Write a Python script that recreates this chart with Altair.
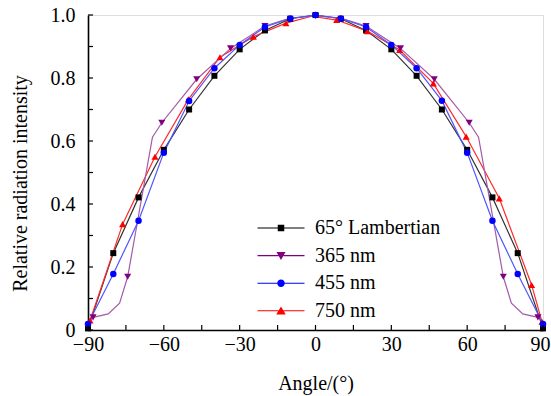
import altair as alt
import pandas as pd

series_names = ["65° Lambertian", "365 nm", "455 nm", "750 nm"]
marker_colors = ["#000000", "#800080", "#0000ff", "#ff0000"]
line_colors = ["#333333", "#a45aa8", "#4d55ff", "#ff2a2a"]

# 65° Lambertian
lam_angle = [-90, -80, -70, -60, -50, -40, -30, -20, -10, 0, 10, 20, 30, 40, 50, 60, 70, 80, 90]
lam_val = [0.005, 0.244, 0.421, 0.572, 0.700, 0.807, 0.891, 0.951, 0.988, 1.0,
           0.988, 0.951, 0.891, 0.807, 0.700, 0.572, 0.421, 0.244, 0.005]

# 365 nm (line vertices and markers)
uv_line_angle = [-88, -82, -77.5, -74.3, -64.5, -60.8, -47, -33.6, -20, -10, 0,
                 10, 20, 33.6, 47, 60.8, 64.5, 74.3, 77.5, 82, 88]
uv_line_val = [0.040, 0.051, 0.085, 0.169, 0.612, 0.658, 0.796, 0.894, 0.965, 0.99, 0.997,
               0.99, 0.965, 0.894, 0.796, 0.658, 0.612, 0.169, 0.085, 0.051, 0.040]
uv_mark_angle = [-88, -74.3, -60.8, -47, -33.6, -20, 0, 20, 33.6, 47, 60.8, 74.3, 88]
uv_mark_val = [0.040, 0.169, 0.658, 0.796, 0.894, 0.965, 0.997, 0.965, 0.894, 0.796, 0.658, 0.169, 0.040]

# 455 nm
blue_angle = [-90, -80, -70, -60, -50, -40, -30, -20, -10, 0, 10, 20, 30, 40, 50, 60, 70, 80, 90]
blue_val = [0.019, 0.178, 0.347, 0.563, 0.727, 0.831, 0.905, 0.962, 0.989, 1.0,
            0.989, 0.962, 0.905, 0.831, 0.728, 0.563, 0.347, 0.178, 0.019]

# 750 nm
red_line_angle = [-89.2, -76.3, -63.5, -50.3, -37.8, -24.6, -11.7, -1.5, 8.4, 20.5, 33.3,
                  46.6, 59.6, 72.7, 85.5, 89.6]
red_line_val = [0.030, 0.336, 0.550, 0.732, 0.866, 0.931, 0.974, 0.996, 0.984, 0.949, 0.889,
                0.783, 0.614, 0.418, 0.143, 0.026]
red_mark_angle = [-89.2, -76.3, -63.5, -50.3, -37.8, -24.6, -11.7, 8.4, 20.5, 33.3,
                  46.6, 59.6, 72.7, 85.5, 89.6]
red_mark_val = [0.030, 0.336, 0.550, 0.732, 0.866, 0.931, 0.974, 0.984, 0.949, 0.889,
                0.783, 0.614, 0.418, 0.143, 0.026]

x_tick_values = [-90, -75, -60, -45, -30, -15, 0, 15, 30, 45, 60, 75, 90]
y_tick_values = [0, 0.1, 0.2, 0.3, 0.4, 0.5, 0.6, 0.7, 0.8, 0.9, 1.0]
x_label_values = [-90, -60, -30, 0, 30, 60, 90]
y_label_values = [0, 0.2, 0.4, 0.6, 0.8, 1.0]

# legend glyphs: short line with marker in the middle (fill-only paths)
band = "M-4.7,-0.11L-0.5,-0.11L-0.5,0.11L-4.7,0.11ZM0.5,-0.11L4.7,-0.11L4.7,0.11L0.5,0.11Z"
legend_shapes = [
    band + "M-0.65,-0.65L0.65,-0.65L0.65,0.65L-0.65,0.65Z",
    band + "M-0.9,-0.7L0.9,-0.7L0,0.9Z",
    band + "M0.75,0A0.75,0.75,0,1,1,-0.75,0A0.75,0.75,0,1,1,0.75,0Z",
    band + "M0,-0.85L0.95,0.75L-0.95,0.75Z",
]

FONT = "Liberation Serif"


def frame(name, angles, vals):
    return pd.DataFrame({"series": name, "angle": angles, "value": vals})


line_frames = {
    series_names[0]: frame(series_names[0], lam_angle, lam_val),
    series_names[1]: frame(series_names[1], uv_line_angle, uv_line_val),
    series_names[2]: frame(series_names[2], blue_angle, blue_val),
    series_names[3]: frame(series_names[3], red_line_angle, red_line_val),
}
mark_frames = {
    series_names[0]: frame(series_names[0], lam_angle, lam_val),
    series_names[1]: frame(series_names[1], uv_mark_angle, uv_mark_val),
    series_names[2]: frame(series_names[2], blue_angle, blue_val),
    series_names[3]: frame(series_names[3], red_mark_angle, red_mark_val),
}
legend_df = pd.DataFrame({"series": series_names, "angle": [0] * 4, "value": [0] * 4})

x_scale = alt.Scale(domain=[-90, 90], nice=False, zero=False)
y_scale = alt.Scale(domain=[0, 1], nice=False)
color_scale = alt.Scale(domain=series_names, range=marker_colors)

x_axis = alt.Axis(values=x_label_values, ticks=False, grid=False, labelFont=FONT,
                  labelFontSize=20, labelColor="black", labelPadding=4, labelFlush=False,
                  labelOffset={"condition": {"test": "datum.value == 90", "value": -3}, "value": 0},
                  title="Angle/(°)", titleFont=FONT, titleFontSize=20, titleFontWeight="normal",
                  titleColor="black", titleY=53, titleBaseline="middle",
                  domainColor="black", domainWidth=1.6)
y_axis = alt.Axis(values=y_label_values, ticks=False, grid=False, labelFont=FONT,
                  labelFontSize=20, labelColor="black", labelPadding=13, labelFlush=False,
                  labelExpr="datum.value == 0 ? '0' : format(datum.value, '.1f')",
                  title="Relative radiation intensity", titleFont=FONT, titleFontSize=20,
                  titleFontWeight="normal", titleColor="black", titleX=-68, titleY=168,
                  titleBaseline="middle", titleAlign="center", titleAngle=-90,
                  domainColor="black", domainWidth=1.6)

X = alt.X("angle:Q", scale=x_scale, axis=x_axis)
Y = alt.Y("value:Q", scale=y_scale, axis=y_axis)

legend_spec = alt.Legend(title=None, orient="none", legendX=183, legendY=203,
                         symbolSize=100, symbolStrokeWidth=0, symbolOpacity=1, labelFont=FONT,
                         labelFontSize=20, labelColor="black", labelOffset=24,
                         rowPadding=7.6, padding=0, labelLimit=300)

# legend carrier layer (draws no marks itself)
legend_layer = alt.Chart(legend_df).transform_filter("false").mark_point(
    filled=True, opacity=1
).encode(
    x=X, y=Y,
    color=alt.Color("series:N", scale=color_scale, legend=legend_spec),
    shape=alt.Shape("series:N", scale=alt.Scale(domain=series_names, range=legend_shapes),
                    legend=legend_spec),
)

shape_of = {series_names[0]: ("square", 36), series_names[1]: ("triangle-down", 50),
            series_names[2]: ("circle", 42), series_names[3]: ("triangle-up", 50)}

layers = [legend_layer]
for i in [0, 3, 1, 2]:
    name = series_names[i]
    layers.append(
        alt.Chart(line_frames[name]).mark_line(strokeWidth=1.2, color=line_colors[i]).encode(
            x=X, y=Y)
    )
for i in [0, 3, 1, 2]:
    name = series_names[i]
    shp, sz = shape_of[name]
    layers.append(
        alt.Chart(mark_frames[name]).mark_point(
            filled=True, opacity=1, size=sz, shape=shp, color=marker_colors[i]
        ).encode(x=X, y=Y)
    )

xt_df = pd.DataFrame({"angle": x_tick_values})
yt_df = pd.DataFrame({"value": y_tick_values})
layers.append(alt.Chart(xt_df).mark_rule(color="black", strokeWidth=1.2).encode(
    x=X, y=alt.value(315), y2=alt.value(310)))
layers.append(alt.Chart(yt_df).mark_rule(color="black", strokeWidth=1.2).encode(
    y=Y, x=alt.value(0), x2=alt.value(5)))

chart = alt.layer(*layers).properties(
    width=455, height=315,
    autosize=alt.AutoSizeParams(type="none"),
    padding={"left": 88, "top": 15, "right": 8, "bottom": 66},
    background="white",
).configure_view(
    stroke="black", strokeWidth=1.6
).configure(
    font=FONT
).configure_legend(
    labelFont=FONT, labelFontSize=20, labelColor="black"
).configure_axis(
    labelFont=FONT, titleFont=FONT
)

chart.save("out.html", embed_options={"renderer": "svg", "actions": False})
